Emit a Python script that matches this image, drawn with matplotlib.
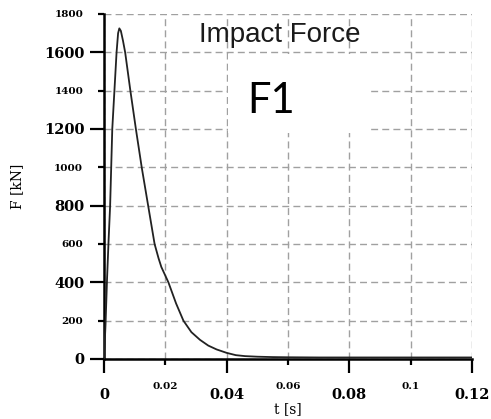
import matplotlib
matplotlib.use("Agg")
import matplotlib.pyplot as plt
from matplotlib.patches import Rectangle

# =============================
# DATA
# =============================

t_s = [0.0, 0.0005, 0.001, 0.0015, 0.002, 0.0027, 0.0034, 0.0041, 0.0046, 0.005,
       0.0055, 0.0062, 0.0069, 0.0086, 0.0104, 0.0123, 0.0144, 0.0165, 0.0178,
       0.0187, 0.021, 0.0235, 0.0259, 0.0285, 0.0313, 0.034, 0.0367, 0.040,
       0.043, 0.046, 0.050, 0.055, 0.060, 0.070, 0.080, 0.100, 0.120]
force_kN = [0, 180, 420, 620, 800, 1200, 1400, 1600, 1700, 1725,
            1712, 1660, 1600, 1400, 1200, 1000, 800, 600, 525,
            480, 400, 290, 200, 140, 100, 70, 50, 32,
            20, 15, 12, 10, 9, 8, 8, 8, 8]

x_major = [0, 0.04, 0.08, 0.12]
x_major_labels = ["0", "0.04", "0.08", "0.12"]
x_minor = [0.02, 0.06, 0.1]
x_minor_labels = ["0.02", "0.06", "0.1"]
y_major = [0, 400, 800, 1200, 1600]
y_minor = [200, 600, 1000, 1400, 1800]

TITLE = "Impact Force"
TAG = "F1"
XLABEL = "t [s]"
YLABEL = "F [kN]"

# white label box that hides part of the grid
BOX_X = (0.0405, 0.0858)
BOX_Y = (1180, 1590)

# =============================
# FIGURE
# =============================

fig = plt.figure(figsize=(4.91, 4.19), dpi=100)
ax = fig.add_axes([0.2118, 0.1432, 0.7495, 0.8234])

ax.plot(t_s, force_kN, color="#222222", lw=1.3, zorder=3)

ax.set_xlim(0, 0.12)
ax.set_ylim(0, 1800)

ax.set_xticks(x_major)
ax.set_xticklabels(x_major_labels)
ax.set_xticks(x_minor, minor=True)
ax.set_xticklabels(x_minor_labels, minor=True)
ax.set_yticks(y_major)
ax.set_yticklabels([str(v) for v in y_major])
ax.set_yticks(y_minor, minor=True)
ax.set_yticklabels([str(v) for v in y_minor], minor=True)

serif = "DejaVu Serif"
for lab in ax.get_xticklabels() + ax.get_yticklabels():
    lab.set_family(serif)
    lab.set_weight("bold")
for lab in ax.get_xticklabels(minor=True) + ax.get_yticklabels(minor=True):
    lab.set_family(serif)
    lab.set_weight("bold")

ax.tick_params(axis="both", which="major", direction="out", length=10,
               width=1.6, color="black", labelsize=10.5)
ax.tick_params(axis="both", which="minor", direction="out", length=4.5,
               width=1.6, color="black", labelsize=7.5)
ax.tick_params(axis="y", which="major", pad=4)
ax.tick_params(axis="y", which="minor", pad=10.5)
ax.tick_params(axis="x", which="major", pad=11)
ax.tick_params(axis="x", which="minor", pad=12)

for side in ["top", "right"]:
    ax.spines[side].set_visible(False)
for side in ["left", "bottom"]:
    ax.spines[side].set_linewidth(1.8)
    ax.spines[side].set_color("black")

ax.set_axisbelow(True)
ax.grid(True, which="both", color="#a0a0a0", lw=1.0, linestyle=(0, (5, 3)))

ax.add_patch(Rectangle((BOX_X[0], BOX_Y[0]), BOX_X[1] - BOX_X[0], BOX_Y[1] - BOX_Y[0],
                       facecolor="white", edgecolor="none", zorder=1))

ax.set_xlabel(XLABEL, family=serif, fontsize=10, labelpad=0)
ax.set_ylabel(YLABEL, family=serif, fontsize=10, labelpad=14)

fig.text(0.570, 0.900, TITLE, family="Liberation Sans", fontsize=20,
         color="#1a1a1a", ha="center", va="baseline")
fig.text(0.552, 0.730, TAG, family="Lato", fontsize=30,
         color="black", ha="center", va="baseline")

fig.savefig("out.png", dpi=100)
